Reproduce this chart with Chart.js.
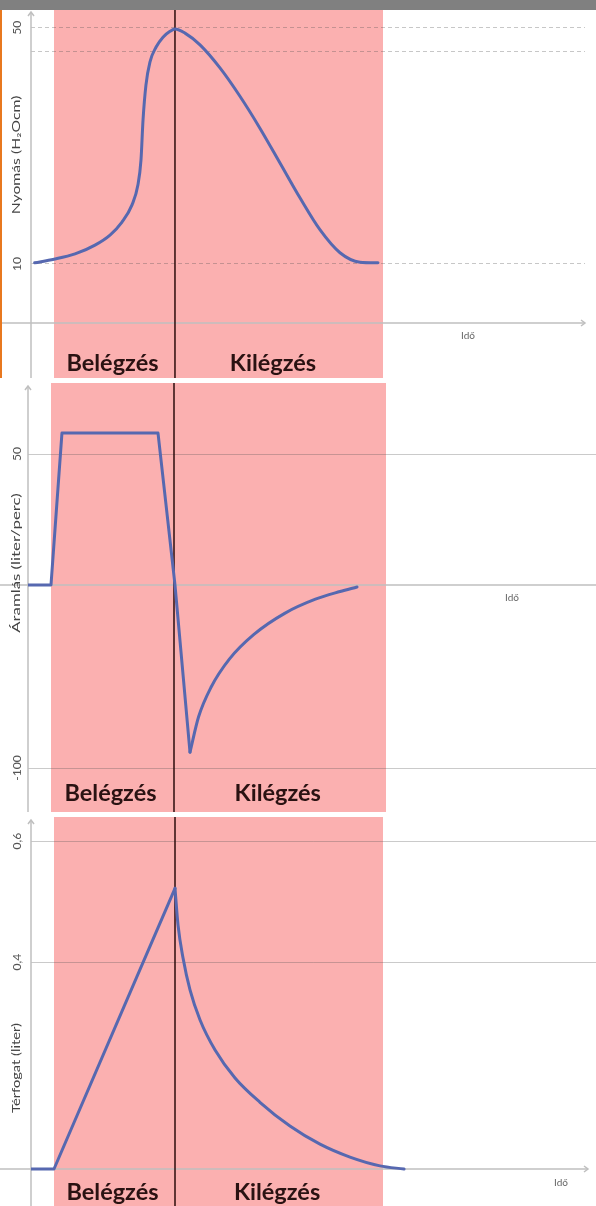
<!DOCTYPE html>
<html>
<head>
<meta charset="utf-8">
<script src="https://cdn.jsdelivr.net/npm/chart.js@4.4.1/dist/chart.umd.min.js"></script>
<style>
  html, body { margin: 0; padding: 0; background: #fff; }
  #page { position: relative; width: 596px; height: 1206px; overflow: hidden; background: #fff; }
  .topbar { position: absolute; left: 0; top: 0; width: 596px; height: 10px; background: #808080; }
  .edge { position: absolute; left: 0; top: 10px; width: 2px; height: 368px; background: #e8781f; }
  .panel { position: absolute; left: 0; width: 596px; }
  canvas { display: block; }
</style>
</head>
<body>
<div id="page">
  <div class="topbar"></div>
  <div class="panel" style="top:10px;height:368px"><canvas id="pressure" width="596" height="368"></canvas></div>
  <div class="panel" style="top:383px;height:429px"><canvas id="flow" width="596" height="429"></canvas></div>
  <div class="panel" style="top:817px;height:389px"><canvas id="volume" width="596" height="389"></canvas></div>
  <div class="edge"></div>
</div>
<script>
// Breathing phases (time in units of the inspiration length)
const phaseLabels = ['Belégzés', 'Kilégzés'];
const phaseBounds = [0, 1, 2.72];
const timeLabel = 'Idő';

// Airway pressure, H2O cm
const pressureTime   = [-0.16, 0, 0.174, 0.339, 0.463, 0.562, 0.645, 0.694, 0.719, 0.736, 0.76, 0.793, 0.843, 0.901, 0.959, 1.0, 1.083, 1.207, 1.372, 1.537, 1.702, 1.868, 2.033, 2.198, 2.364, 2.529, 2.678];
const pressureValues = [10.2, 10.8, 11.7, 13.2, 14.9, 17.1, 20.0, 23.4, 27.6, 34.4, 40.3, 44.2, 46.7, 48.4, 49.4, 49.8, 49.1, 47.1, 43.2, 38.4, 33.0, 27.1, 21.2, 15.8, 11.9, 10.3, 10.2];
const pressureTicks      = [10, 46, 50];
const pressureTickLabels = ['10', '', '50'];

// Flow, liter/min: square inspiratory wave, then passive expiration
const flowRampTime     = [-0.19, 0, 0.089, 0.87, 1.008, 1.13];
const flowRampValues   = [0, 0, 58, 58, 0, -91.3];
const flowReturnTime   = [1.13, 1.2, 1.3, 1.45, 1.65, 1.9, 2.15, 2.35, 2.488];
const flowReturnValues = [-91.3, -72.0, -56.0, -40.5, -27.0, -15.5, -7.8, -3.6, -1.1];
const flowTicks      = [-100, 50];
const flowTickLabels = ['-100', '50'];

// Volume, liter
const volumeRiseTime    = [-0.19, 0, 0.737, 1.0];
const volumeRiseValues  = [0, 0, 0.4, 0.522];
const volumeFallTime    = [1.0, 1.025, 1.066, 1.124, 1.207, 1.331, 1.496, 1.702, 1.95, 2.198, 2.446, 2.694, 2.893];
const volumeFallValues  = [0.522, 0.461, 0.407, 0.346, 0.288, 0.230, 0.176, 0.129, 0.083, 0.048, 0.023, 0.006, 0];
const volumeTicks      = [0.4, 0.6];
const volumeTickLabels = ['0,4', '0,6'];

const pts = (xs, ys) => xs.map((x, i) => ({ x, y: ys[i] }));

// Linear scale whose value-to-position mapping is piecewise linear between stops
class StopScale extends Chart.LinearScale {
  _stops() { return this.options.stops; }
  getPixelForValue(value) {
    if (value === null || value === undefined || isNaN(value)) return NaN;
    const s = this._stops();
    let i = 0;
    while (i < s.length - 2 && value > s[i + 1][0]) i++;
    const [v0, f0] = s[i], [v1, f1] = s[i + 1];
    return this.getPixelForDecimal(f0 + (value - v0) / (v1 - v0) * (f1 - f0));
  }
  getValueForPixel(pixel) {
    const d = this.getDecimalForPixel(pixel);
    const s = this._stops();
    let i = 0;
    while (i < s.length - 2 && d > s[i + 1][1]) i++;
    const [v0, f0] = s[i], [v1, f1] = s[i + 1];
    return v0 + (d - f0) / (f1 - f0) * (v1 - v0);
  }
}
StopScale.id = 'stops';
StopScale.defaults = Chart.LinearScale.defaults;
Chart.register(StopScale);

const FONT = 'Lato, "Open Sans", sans-serif';
const BAND = '#fbb0b0';
const AXIS = '#bfbfbf';
const CURVE = '#5668b0';

function arrow(ctx, x, y, dir) {
  ctx.beginPath();
  if (dir === 'up') { ctx.moveTo(x - 3, y + 4); ctx.lineTo(x, y); ctx.lineTo(x + 3, y + 4); }
  else { ctx.moveTo(x - 4, y - 3); ctx.lineTo(x, y); ctx.lineTo(x - 4, y + 3); }
  ctx.stroke();
}

function rotatedText(ctx, text, x, y, stretch) {
  ctx.save();
  ctx.translate(x, y);
  ctx.rotate(-Math.PI / 2);
  ctx.scale(stretch, 1);
  ctx.fillText(text, 0, 0);
  ctx.restore();
}

const breathPlugin = {
  id: 'breath',
  beforeDraw(chart) {
    const { ctx, scales: { x } } = chart;
    const x0 = x.getPixelForValue(phaseBounds[0]);
    const x1 = x.getPixelForValue(phaseBounds[2]);
    ctx.save();
    ctx.fillStyle = BAND;
    ctx.fillRect(Math.round(x0), 0, Math.round(x1 - x0), chart.height);
    ctx.restore();
  },
  beforeDatasetsDraw(chart, args, o) {
    const { ctx, chartArea, scales: { x, y } } = chart;
    const H = chart.height;
    const y0 = y.getPixelForValue(0);
    ctx.save();
    // axes
    ctx.strokeStyle = AXIS;
    ctx.lineWidth = 1.5;
    ctx.beginPath();
    ctx.moveTo(chartArea.left, o.arrowTop);
    ctx.lineTo(chartArea.left, H);
    ctx.stroke();
    arrow(ctx, chartArea.left, o.arrowTop, 'up');
    const xEnd = chartArea.right - o.arrowInset;
    ctx.beginPath();
    ctx.moveTo(0, y0);
    ctx.lineTo(xEnd, y0);
    ctx.stroke();
    if (o.arrowRight) arrow(ctx, xEnd, y0, 'right');

    // divider between inspiration and expiration
    const xd = x.getPixelForValue(phaseBounds[1]);
    ctx.strokeStyle = '#2c0c0c';
    ctx.lineWidth = 1.5;
    ctx.beginPath();
    ctx.moveTo(xd, 0);
    ctx.lineTo(xd, H);
    ctx.stroke();

    // tick labels and axis title, rotated
    ctx.fillStyle = '#555';
    ctx.textAlign = 'center';
    ctx.textBaseline = 'middle';
    ctx.font = '11px ' + FONT;
    o.tickValues.forEach((v, i) => {
      if (o.tickLabels[i]) rotatedText(ctx, o.tickLabels[i], 17, y.getPixelForValue(v), 1.1);
    });
    ctx.fillStyle = '#444';
    ctx.font = '10.5px ' + FONT;
    rotatedText(ctx, o.title, 17, o.titleY, o.titleStretch);

    // time label
    ctx.fillStyle = '#666';
    ctx.font = '10px ' + FONT;
    ctx.fillText(timeLabel, o.timeX, y0 + o.timeDy);

    // phase labels
    ctx.fillStyle = '#2a1212';
    ctx.font = 'bold 23.5px ' + FONT;
    phaseLabels.forEach((lab, i) => {
      const cx = (x.getPixelForValue(phaseBounds[i]) + x.getPixelForValue(phaseBounds[i + 1])) / 2;
      ctx.fillText(lab, cx + o.labelShift[i], o.labelY);
    });
    ctx.restore();
  }
};

function makeChart(id, cfg) {
  const yScale = Object.assign({
    display: true,
    ticks: { display: false },
    grid: { color: cfg.gridColor, lineWidth: 1, drawTicks: false },
    border: { display: false, dash: cfg.dash || [] },
    afterBuildTicks: s => { s.ticks = cfg.ticks.map(v => ({ value: v })); },
    afterFit: s => { s.width = 0; }
  }, cfg.y);
  return new Chart(document.getElementById(id), {
    type: 'line',
    data: {
      datasets: cfg.series.map(s => ({
        data: s.data,
        borderColor: CURVE,
        borderWidth: 3,
        pointRadius: 0,
        tension: s.smooth ? 0.4 : 0,
        cubicInterpolationMode: s.smooth ? 'monotone' : 'default',
        borderJoinStyle: 'round',
        borderCapStyle: 'round',
        fill: false
      }))
    },
    options: {
      responsive: false,
      animation: false,
      devicePixelRatio: 1,
      layout: { padding: cfg.padding },
      plugins: {
        legend: { display: false },
        tooltip: { enabled: false },
        breath: cfg.plugin
      },
      scales: {
        x: { type: 'linear', display: false, min: cfg.xMin, max: cfg.xMax },
        y: yScale
      }
    },
    plugins: [breathPlugin]
  });
}

makeChart('pressure', {
  padding: { left: 31, right: 11, top: 6, bottom: 55 },
  xMin: -0.19, xMax: 4.389,
  y: { type: 'linear', min: 0, max: 52 },
  ticks: pressureTicks,
  gridColor: 'rgba(80,80,80,0.32)',
  dash: [4, 3],
  series: [{ data: pts(pressureTime, pressureValues), smooth: true }],
  plugin: {
    tickValues: pressureTicks, tickLabels: pressureTickLabels,
    title: 'Nyomás (H₂Ocm)', titleY: 145, titleStretch: 1.5,
    arrowTop: 2, arrowInset: 0, arrowRight: true,
    timeX: 468, timeDy: 13,
    labelY: 353, labelShift: [-2, -6]
  }
});

makeChart('flow', {
  padding: { left: 28, right: 0, top: 3, bottom: 0 },
  xMin: -0.187, xMax: 4.431,
  y: { type: 'stops', min: -124, max: 76, stops: [[-124, 0], [0, 0.533], [76, 1]] },
  ticks: flowTicks,
  gridColor: 'rgba(80,80,80,0.3)',
  series: [
    { data: pts(flowRampTime, flowRampValues), smooth: false },
    { data: pts(flowReturnTime, flowReturnValues), smooth: true }
  ],
  plugin: {
    tickValues: flowTicks, tickLabels: flowTickLabels,
    title: 'Áramlás (liter/perc)', titleY: 180, titleStretch: 1.6,
    arrowTop: 3, arrowInset: 0, arrowRight: false,
    timeX: 512, timeDy: 13,
    labelY: 410, labelShift: [-2, -2]
  }
});

makeChart('volume', {
  padding: { left: 31, right: 0, top: 3, bottom: 0 },
  xMin: -0.19, xMax: 4.479,
  y: { type: 'stops', min: -0.0715, max: 0.635, stops: [[-0.0715, 0], [0.4, 0.632], [0.635, 1]] },
  ticks: volumeTicks,
  gridColor: 'rgba(80,80,80,0.3)',
  series: [
    { data: pts(volumeRiseTime, volumeRiseValues), smooth: false },
    { data: pts(volumeFallTime, volumeFallValues), smooth: true }
  ],
  plugin: {
    tickValues: volumeTicks, tickLabels: volumeTickLabels,
    title: 'Térfogat (liter)', titleY: 251, titleStretch: 1.4,
    arrowTop: 3, arrowInset: 8, arrowRight: true,
    timeX: 561, timeDy: 14,
    labelY: 375, labelShift: [-2, -2]
  }
});
</script>
</body>
</html>
